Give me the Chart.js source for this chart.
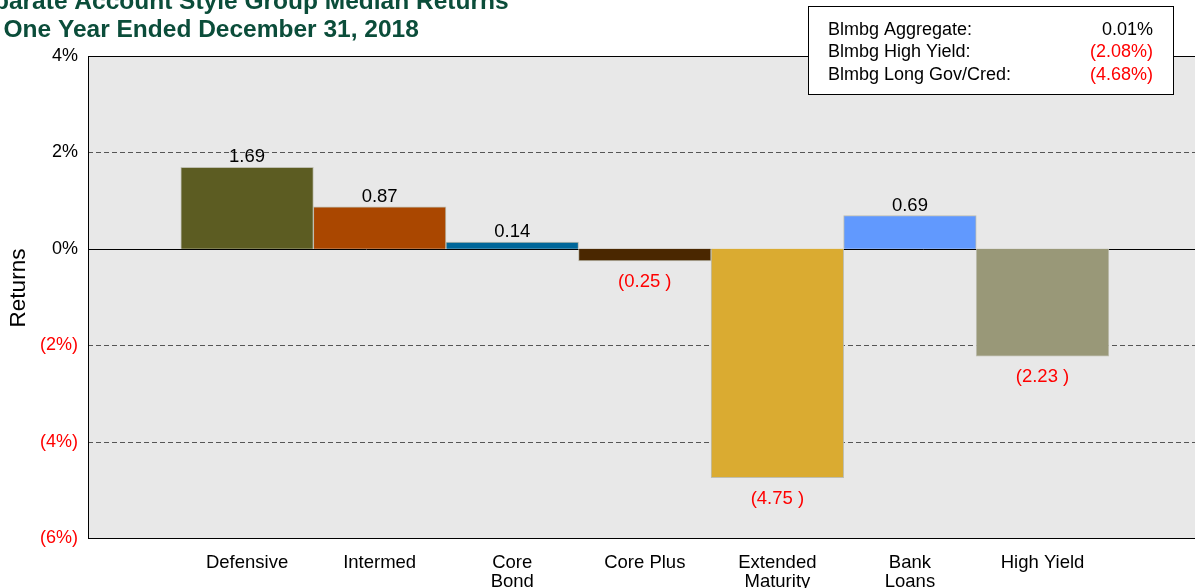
<!DOCTYPE html>
<html><head><meta charset="utf-8">
<script src="https://cdn.jsdelivr.net/npm/chart.js@4"></script>
<style>
html,body{margin:0;padding:0;background:#fff;overflow:hidden;width:1195px;height:588px;}
#wrap{position:absolute;left:-40px;top:0;width:1250px;height:588px;}
canvas{display:block}
</style></head><body>
<div id="wrap"><canvas id="c" width="1250" height="588"></canvas></div>
<script>
const titleLines = ['Separate Account Style Group Median Returns', 'for One Year Ended December 31, 2018'];
const categories = [['Defensive'], ['Intermed'], ['Core', 'Bond'], ['Core Plus'], ['Extended', 'Maturity'], ['Bank', 'Loans'], ['High Yield']];
const medianReturns = [1.69, 0.87, 0.14, -0.25, -4.75, 0.69, -2.23];
const barColors = ['#5C5C22', '#AA4700', '#00679A', '#4A2700', '#DAAB31', '#6199FE', '#999878'];
const yTicks = [4, 2, 0, -2, -4, -6];
const benchNames = ['Blmbg Aggregate:', 'Blmbg High Yield:', 'Blmbg Long Gov/Cred:'];
const benchValues = [0.01, -2.08, -4.68];
const yAxisTitle = 'Returns';

const OFF = 40; // canvas is shifted left so the clipped title matches
const FONT = '"Liberation Sans", Arial, Helvetica, sans-serif';
const RED = '#ff0000';

function fmtPct(v) { return v < 0 ? '(' + Math.abs(v) + '%)' : v + '%'; }
function fmtBench(v) { return v < 0 ? '(' + Math.abs(v).toFixed(2) + '%)' : v.toFixed(2) + '%'; }
function fmtBar(v) { return v < 0 ? '(' + Math.abs(v).toFixed(2) + ' )' : v.toFixed(2); }

const deco = {
  id: 'deco',
  beforeDraw(chart) {
    const {ctx, chartArea: a} = chart;
    ctx.save();
    ctx.fillStyle = '#ffffff';
    ctx.fillRect(0, 0, chart.width, chart.height);
    ctx.fillStyle = '#E8E8E8';
    ctx.fillRect(a.left, a.top, a.right - a.left, a.bottom - a.top);
    ctx.restore();
  },
  beforeDatasetsDraw(chart) {
    const {ctx, chartArea: a, scales: {y}} = chart;
    ctx.save();
    ctx.lineWidth = 1;
    y.ticks.forEach(t => {
      if (t.value === y.max || t.value === y.min) return;
      const py = Math.round(y.getPixelForValue(t.value)) + 0.5;
      ctx.beginPath();
      if (t.value === 0) { ctx.setLineDash([]); ctx.strokeStyle = '#000'; }
      else { ctx.setLineDash([5, 3]); ctx.strokeStyle = '#555'; }
      ctx.moveTo(a.left, py); ctx.lineTo(a.right, py); ctx.stroke();
    });
    ctx.restore();
  },
  afterDatasetsDraw(chart) {
    const {ctx, chartArea: a} = chart;
    ctx.save();
    const meta = chart.getDatasetMeta(0);
    ctx.font = '18.5px ' + FONT;
    ctx.textAlign = 'center';
    ctx.textBaseline = 'middle';
    meta.data.forEach((bar, i) => {
      const v = medianReturns[i];
      if (v >= 0) { ctx.fillStyle = '#000'; ctx.fillText(fmtBar(v), bar.x, bar.y - 10); }
      else { ctx.fillStyle = RED; ctx.fillText(fmtBar(v), bar.x, bar.y + 21); }
    });
    ctx.strokeStyle = '#000';
    ctx.lineWidth = 1;
    ctx.strokeRect(Math.round(a.left) + 0.5, Math.round(a.top) + 0.5, Math.round(a.right - a.left), Math.round(a.bottom - a.top));
    ctx.restore();
  },
  afterDraw(chart) {
    const {ctx} = chart;
    ctx.save();
    ctx.fillStyle = '#0b4d3a';
    ctx.font = 'bold 24.5px ' + FONT;
    ctx.textAlign = 'left';
    ctx.textBaseline = 'alphabetic';
    ctx.fillText(titleLines[0], 4, 8.5);
    ctx.fillText(titleLines[1], 4, 37);
    ctx.save();
    ctx.translate(19 + OFF, 288);
    ctx.rotate(-Math.PI / 2);
    ctx.fillStyle = '#000';
    ctx.font = '22.5px ' + FONT;
    ctx.textAlign = 'center';
    ctx.textBaseline = 'middle';
    ctx.fillText(yAxisTitle, 0, 0);
    ctx.restore();
    const bx = 808 + OFF, by = 6, bw = 365, bh = 88;
    ctx.fillStyle = '#fff';
    ctx.fillRect(bx, by, bw, bh);
    ctx.strokeStyle = '#000';
    ctx.lineWidth = 1;
    ctx.strokeRect(bx + 0.5, by + 0.5, bw, bh);
    ctx.font = '18px ' + FONT;
    ctx.textBaseline = 'alphabetic';
    const baselines = [35, 57, 80];
    benchNames.forEach((n, i) => {
      ctx.fillStyle = '#000';
      ctx.textAlign = 'left';
      ctx.fillText(n, 828 + OFF, baselines[i]);
      ctx.textAlign = 'right';
      ctx.fillStyle = benchValues[i] < 0 ? RED : '#000';
      ctx.fillText(fmtBench(benchValues[i]), 1153 + OFF, baselines[i]);
    });
    ctx.restore();
  }
};

new Chart(document.getElementById('c'), {
  type: 'bar',
  data: {
    datasets: [{
      data: medianReturns.map((v, i) => ({x: i, y: v})),
      backgroundColor: barColors,
      borderColor: 'rgba(185,185,170,0.9)',
      borderWidth: 1,
      barPercentage: 1,
      categoryPercentage: 1
    }]
  },
  options: {
    responsive: false,
    animation: false,
    layout: {padding: {top: 56, right: 8.4, bottom: 0, left: 0}},
    plugins: {legend: {display: false}, tooltip: {enabled: false}, title: {display: false}},
    scales: {
      x: {
        type: 'linear', min: -1.2, max: 7.2, bounds: 'data', offset: false,
        afterBuildTicks: s => { s.ticks = categories.map((_, i) => ({value: i})); },
        afterFit: s => { s.height = 50; },
        grid: {display: false, drawTicks: false, offset: false},
        border: {display: false},
        ticks: {
          autoSkip: false, maxRotation: 0, minRotation: 0, padding: 16, color: '#000',
          font: {family: FONT, size: 18.5, lineHeight: 1.0},
          callback: v => categories[v]
        }
      },
      y: {
        min: -6, max: 4,
        afterBuildTicks: s => { s.ticks = yTicks.map(v => ({value: v})); },
        afterFit: s => { s.width = 88 + OFF; },
        grid: {display: false, drawTicks: false},
        border: {display: false},
        ticks: {
          padding: 10,
          color: c => (c.tick && c.tick.value < 0) ? RED : '#000',
          font: {family: FONT, size: 18},
          callback: v => fmtPct(v)
        }
      }
    }
  },
  plugins: [deco]
});
</script>
</body></html>
